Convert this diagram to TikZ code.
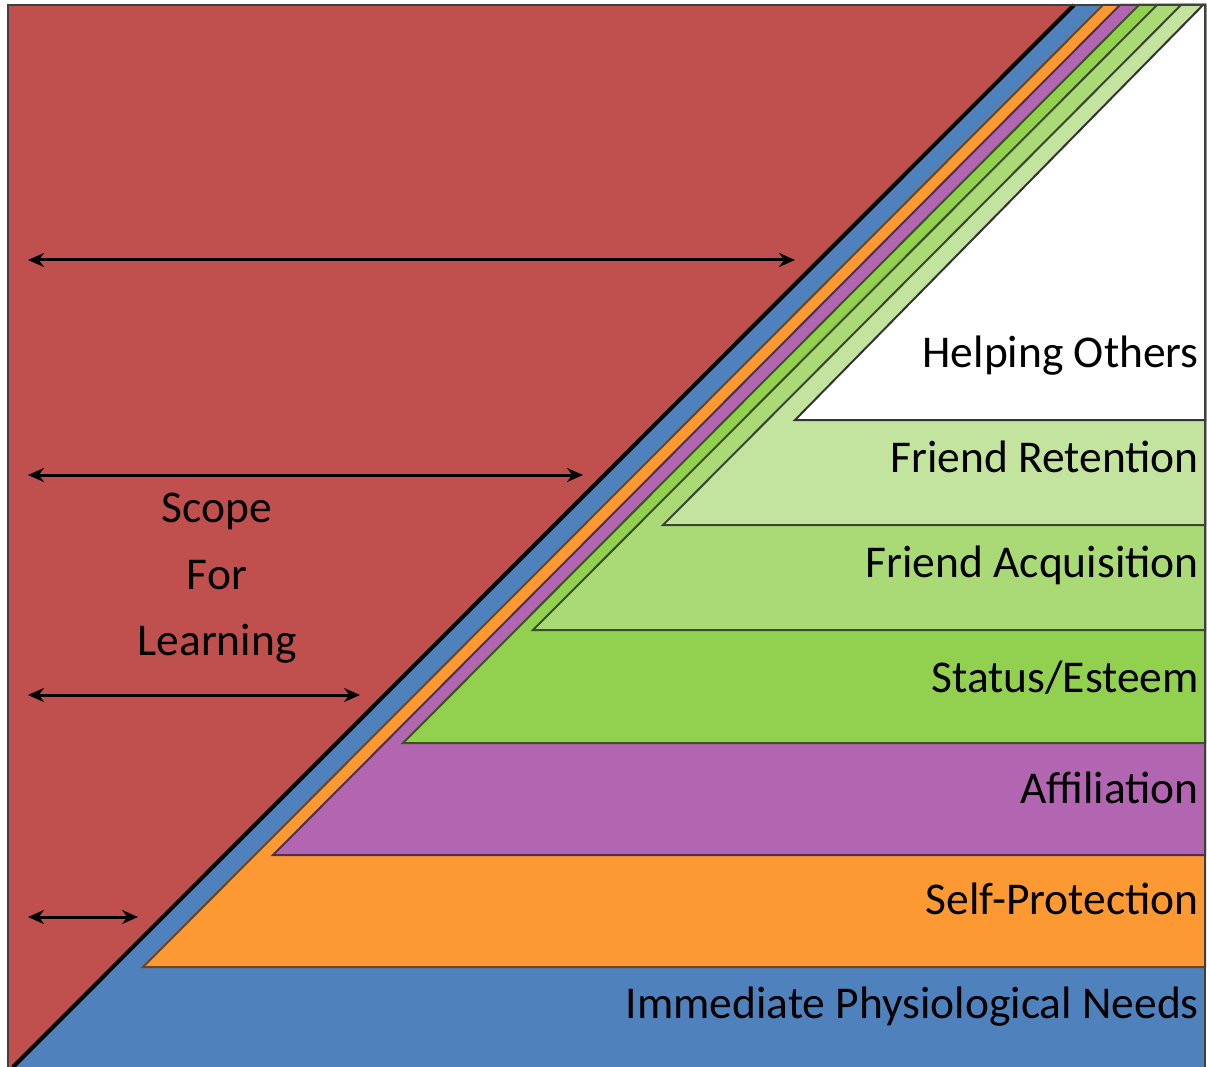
\documentclass[tikz,border=0pt]{standalone}
\usepackage{fontspec}
\setmainfont{Carlito}
\usetikzlibrary{arrows.meta}
\definecolor{cred}{RGB}{192,80,77}
\definecolor{cblue}{RGB}{79,129,189}
\definecolor{corange}{RGB}{252,153,50}
\definecolor{cpurple}{RGB}{178,102,178}
\definecolor{cgreen}{RGB}{146,208,80}
\definecolor{cgreenb}{RGB}{170,218,118}
\definecolor{cgreenc}{RGB}{195,228,158}
\tikzset{
  layer/.style={line width=2pt, line join=miter},
  lab/.style={anchor=base east, inner sep=0pt, font=\fontsize{45.5}{54}\selectfont},
  scope lab/.style={anchor=base, inner sep=0pt, font=\fontsize{45.5}{54}\selectfont},
  darrow/.style={line width=3pt, {Stealth[length=16pt,width=14pt]}-{Stealth[length=16pt,width=14pt]}}
}
\begin{document}
\begin{tikzpicture}[x=1pt,y=-1pt]
\useasboundingbox (0,0) rectangle (1207,1067);
\fill[white] (0,0) rectangle (1207,1067);
% background
\fill[cred] (8,5) rectangle (1205,1067);
% blue layer
\fill[cblue] (15,1067) -- (1073,5) -- (1205,5) -- (1205,1067) -- cycle;
\draw[line width=4pt, line cap=butt] (13,1067) -- (1074,5);
% orange
\filldraw[layer, fill=corange, draw=corange!45!black] (143,967) -- (1103,5) -- (1205,5) -- (1205,967) -- cycle;
% purple
\filldraw[layer, fill=cpurple, draw=cpurple!45!black] (273,855) -- (1120,5) -- (1205,5) -- (1205,855) -- cycle;
% status green
\filldraw[layer, fill=cgreen, draw=cgreen!40!black] (403,743) -- (1139,5) -- (1205,5) -- (1205,743) -- cycle;
% friend acquisition
\filldraw[layer, fill=cgreenb, draw=cgreenb!35!black] (533,630) -- (1157,5) -- (1205,5) -- (1205,630) -- cycle;
% friend retention
\filldraw[layer, fill=cgreenc, draw=cgreenc!30!black] (663,525) -- (1181,5) -- (1205,5) -- (1205,525) -- cycle;
% helping others (white)
\filldraw[layer, fill=white, draw=black!80] (795,420) -- (1203,5) -- (1205,5) -- (1205,420) -- cycle;
% frame
\draw[line width=2pt, draw=black!75] (8,1067) -- (8,5) -- (1205,5) -- (1205,1067);
% labels
\node[lab] (l1) at (1199,367) {Helping Others};
\node[lab] (l2) at (1199,472) {Friend Retention};
\node[lab] (l3) at (1199,577) {Friend Acquisition};
\node[lab] (l4) at (1199,692) {Status/Esteem};
\node[lab] (l5) at (1199,803) {Affiliation};
\node[lab] (l6) at (1199,914) {Self-Protection};
\node[lab] (l7) at (1199,1018) {Immediate Physiological Needs};
\node[scope lab] (s1) at (217,522) {Scope};
\node[scope lab] (s2) at (217,589) {For};
\node[scope lab] (s3) at (217,655) {Learning};
% arrows
\coordinate (a1l) at (28,260); \coordinate (a1r) at (795,260);
\coordinate (a2l) at (28,475); \coordinate (a2r) at (583,475);
\coordinate (a3l) at (28,695); \coordinate (a3r) at (360,695);
\coordinate (a4l) at (28,917); \coordinate (a4r) at (138,917);
\draw[darrow] (a1l) -- (a1r);
\draw[darrow] (a2l) -- (a2r);
\draw[darrow] (a3l) -- (a3r);
\draw[darrow] (a4l) -- (a4r);
\end{tikzpicture}
\end{document}
